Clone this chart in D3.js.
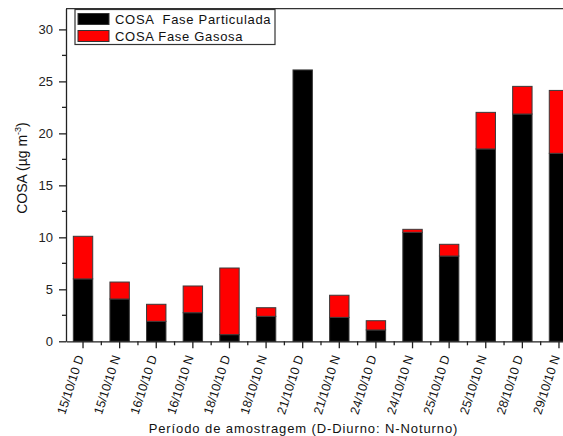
<!DOCTYPE html>
<html>
<head>
<meta charset="utf-8">
<script src="https://cdn.jsdelivr.net/npm/d3@7"></script>
<style>
  body { margin: 0; background: #fff; }
  svg { display: block; font-family: "Liberation Sans", Arial, sans-serif; }
</style>
</head>
<body>
<svg id="chart" width="563" height="436"></svg>
<script>
// sampling periods (D = diurno, N = noturno)
var periods = ["15/10/10 D", "15/10/10 N", "16/10/10 D", "16/10/10 N", "18/10/10 D", "18/10/10 N", "21/10/10 D",
               "21/10/10 N", "24/10/10 D", "24/10/10 N", "25/10/10 D", "25/10/10 N", "28/10/10 D", "29/10/10 N"];
// COSA, ug m-3
var particulada = [6.0, 4.07, 1.92, 2.75, 0.64, 2.4, 26.1, 2.3, 1.09, 10.48, 8.2, 18.5, 21.86, 18.08];
var gasosa = [4.1, 1.63, 1.64, 2.57, 6.41, 0.83, 0, 2.13, 0.89, 0.29, 1.13, 3.52, 2.66, 6.05];
var seriesNames = ["COSA  Fase Particulada", "COSA Fase Gasosa"];
var seriesColors = ["#000000", "#ff0000"];
var yMajorTicks = [0, 5, 10, 15, 20, 25, 30];
var yMinorTicks = [2.5, 7.5, 12.5, 17.5, 22.5, 27.5];

var svg = d3.select("#chart");
var plotLeft = 66, plotRight = 576, plotBottom = 341.3, plotTop = 8.6;

var rows = periods.map(function(p, i) {
    return { period: p, particulada: particulada[i], gasosa: gasosa[i] };
});

var x = d3.scaleBand()
    .domain(periods)
    .range([plotLeft, plotRight])
    .paddingInner(0.47)
    .paddingOuter(0.2);

var y = d3.scaleLinear()
    .domain([0, 32])
    .range([plotBottom, plotTop]);

var stack = d3.stack().keys(["particulada", "gasosa"]);
var layers = stack(rows);

// bars
svg.append("g")
   .selectAll("g")
   .data(layers)
   .enter()
   .append("g")
   .attr("fill", (d, i) => seriesColors[i])
   .selectAll("rect")
   .data(d => d.filter(s => s[1] - s[0] > 0))
   .enter()
   .append("rect")
   .attr("x", d => x(d.data.period))
   .attr("width", x.bandwidth())
   .attr("y", d => y(d[1]))
   .attr("height", d => y(d[0]) - y(d[1]))
   .attr("stroke", "#3a3a3a")
   .attr("stroke-width", 1);

// top frame
svg.append("line")
   .attr("x1", plotLeft).attr("x2", 563)
   .attr("y1", y(32)).attr("y2", y(32))
   .attr("stroke", "#333").attr("stroke-width", 1.3);

// y axis
var yAxis = svg.append("g")
    .attr("transform", "translate(" + plotLeft + ",0)")
    .call(d3.axisLeft(y).tickValues(yMajorTicks).tickSize(7).tickSizeOuter(0).tickPadding(6));
yAxis.selectAll("text").style("font-size", "13px").attr("fill", "#222");
yAxis.select(".domain").attr("stroke", "#222").attr("stroke-width", 1.3);
yAxis.selectAll(".tick line").attr("stroke", "#222").attr("stroke-width", 1.3);
yAxis.selectAll(".minor")
     .data(yMinorTicks)
     .enter()
     .append("line")
     .attr("class", "minor")
     .attr("x1", -4).attr("x2", 0)
     .attr("y1", d => y(d)).attr("y2", d => y(d))
     .attr("stroke", "#222").attr("stroke-width", 1.3);

// x axis
var xAxis = svg.append("g")
    .attr("transform", "translate(0," + plotBottom + ")")
    .call(d3.axisBottom(x).tickSize(7).tickSizeOuter(0).tickFormat(""));
xAxis.select(".domain").attr("stroke", "#222").attr("stroke-width", 1.3);
xAxis.selectAll(".tick line").attr("stroke", "#222").attr("stroke-width", 1.3);
xAxis.selectAll(".minor")
     .data(periods)
     .enter()
     .append("line")
     .attr("class", "minor")
     .attr("x1", d => x(d) + x.bandwidth() / 2 + x.step() / 2)
     .attr("x2", d => x(d) + x.bandwidth() / 2 + x.step() / 2)
     .attr("y1", 0).attr("y2", 4)
     .attr("stroke", "#222").attr("stroke-width", 1.3);

// rotated period labels
svg.append("g")
   .selectAll("text")
   .data(periods)
   .enter()
   .append("text")
   .attr("transform", d => "translate(" + (x(d) + x.bandwidth() / 2 + 1) + "," + 357 + ") rotate(-72)")
   .attr("text-anchor", "end")
   .style("font-size", "12.5px")
   .attr("fill", "#111")
   .text(d => d);

// axis titles
svg.append("text")
   .attr("transform", "translate(27,168) rotate(-90)")
   .attr("text-anchor", "middle")
   .style("font-size", "14px")
   .attr("fill", "#111")
   .html("COSA (µg m<tspan dy='-6' font-size='9px'>-3</tspan><tspan dy='6'>)</tspan>");

svg.append("text")
   .attr("x", 303.5)
   .attr("y", 432.5)
   .attr("text-anchor", "middle")
   .style("font-size", "13px")
   .style("letter-spacing", "0.9px")
   .attr("fill", "#111")
   .text("Período de amostragem (D-Diurno: N-Noturno)");

// legend
var legend = svg.append("g");
legend.append("rect")
      .attr("x", 75).attr("y", 9.5)
      .attr("width", 200).attr("height", 35)
      .attr("fill", "#fff")
      .attr("stroke", "#333").attr("stroke-width", 1.2);
var items = legend.selectAll("g.item")
    .data(seriesNames)
    .enter()
    .append("g")
    .attr("class", "item")
    .attr("transform", (d, i) => "translate(0," + (i * 17) + ")");
items.append("rect")
     .attr("x", 78).attr("y", 13.5)
     .attr("width", 31).attr("height", 11)
     .attr("fill", (d, i) => seriesColors[i])
     .attr("stroke", "#333").attr("stroke-width", 1);
items.append("text")
     .attr("x", 115).attr("y", 24)
     .style("font-size", "13px")
     .style("letter-spacing", "0.7px")
     .style("white-space", "pre")
     .attr("fill", "#111")
     .text(d => d);
</script>
</body>
</html>
